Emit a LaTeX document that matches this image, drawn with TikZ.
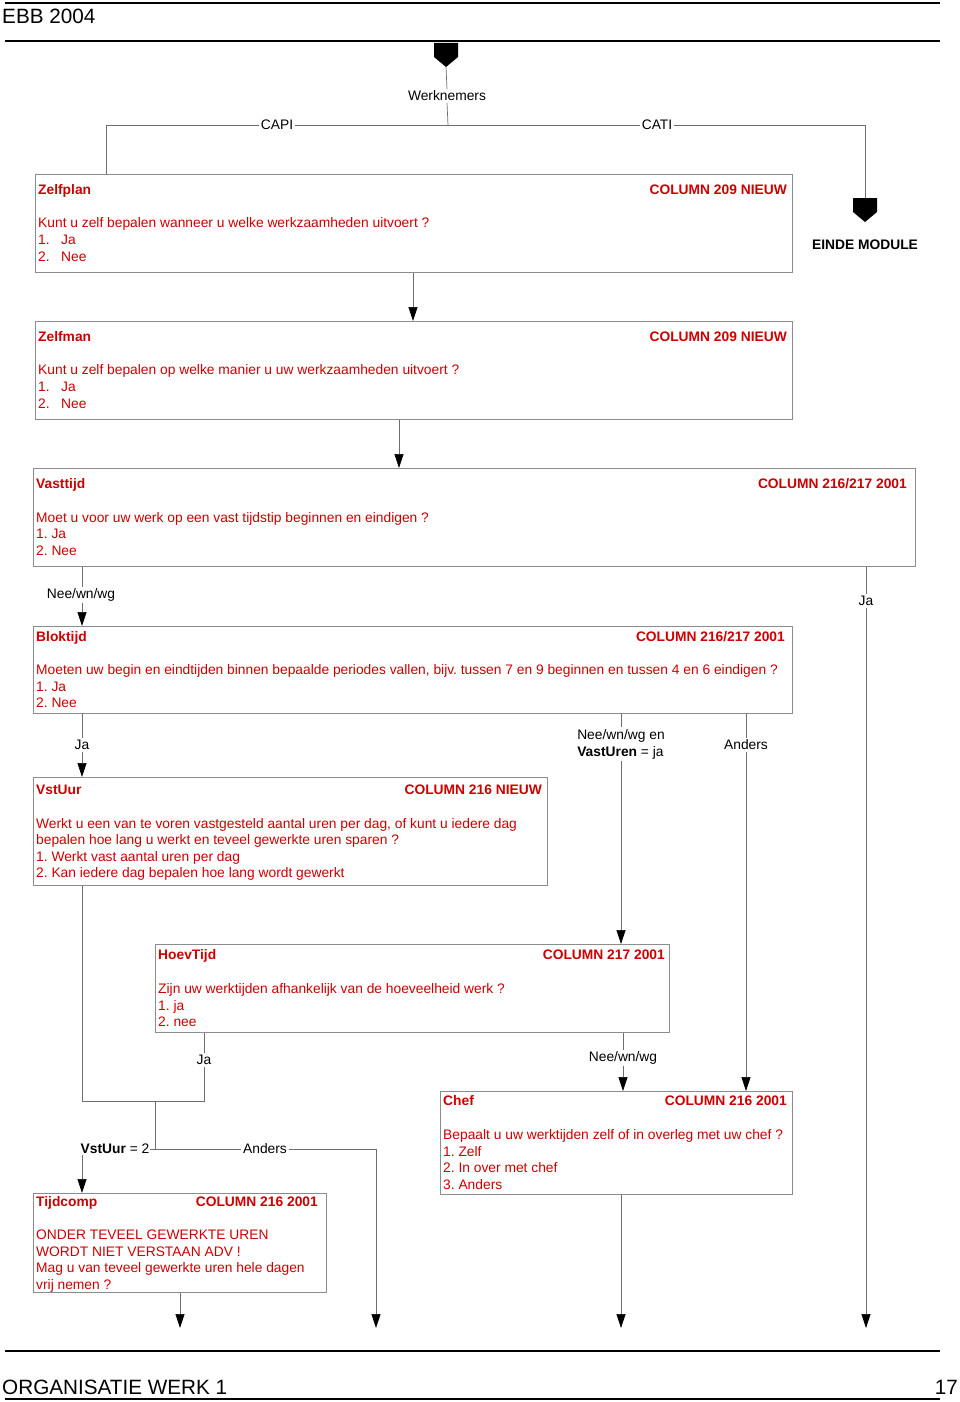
\documentclass[tikz,border=0pt]{standalone}
\usepackage{fontspec}
\setmainfont{Liberation Sans}
\usetikzlibrary{arrows.meta}
\definecolor{qred}{RGB}{204,0,0}
\definecolor{lgray}{RGB}{110,110,110}
\definecolor{bgray}{RGB}{140,140,140}
\frenchspacing
\begin{document}
\frenchspacing
\begin{tikzpicture}[x=1pt,y=-1pt,
  box/.style={draw=bgray, line width=0.9pt, fill=white, anchor=north west, inner sep=0pt},
  t/.style={inner sep=0pt, anchor=base west, text=qred, font=\fontsize{13.8}{17}\selectfont\frenchspacing},
  tb/.style={t, font=\fontsize{13.8}{17}\selectfont\bfseries},
  tr/.style={tb, anchor=base east},
  lab/.style={inner sep=1.5pt, fill=white, text=black, font=\fontsize{13.8}{17}\selectfont},
  conn/.style={draw=lgray, line width=0.7pt},
  arr/.style={conn, -{Triangle[width=9pt,length=14pt,color=black]}},
  big/.style={inner sep=0pt, font=\fontsize{20.7}{24}\selectfont}
]
\useasboundingbox (0,0) rectangle (960,1402);

% header and footer
\draw[line width=1.6pt] (5,3) -- (940,3);
\node[big, anchor=base west] (hdr) at (2,23.5) {EBB 2004};
\draw[line width=2pt] (5,41) -- (940,41);
\draw[line width=2pt] (5,1351) -- (940,1351);
\node[big, anchor=base west] (ftr) at (2,1394) {ORGANISATIE WERK 1};
\node[big, anchor=base east] (pg) at (958,1394) {17};
\draw[line width=1.6pt] (5,1399) -- (940,1399);

% helper x coordinates
\coordinate (x82) at (82,0);
\coordinate (x106) at (106,0);
\coordinate (x155) at (155,0);
\coordinate (x180) at (180,0);
\coordinate (x204) at (204,0);
\coordinate (x376) at (376,0);
\coordinate (x399) at (399,0);
\coordinate (x413) at (413,0);
\coordinate (x621) at (621,0);
\coordinate (x623) at (623,0);
\coordinate (x746) at (746,0);
\coordinate (x866) at (866,0);

% start symbol
\fill (434,43) -- (458,43) -- (458,57) -- (446,67) -- (434,57) -- cycle;
\coordinate (start) at (446,67);
\node[lab] (wk) at (447,96) {Werknemers};
\coordinate (split) at (448,125);
\draw[conn] (start) -- (wk.north);
\draw[conn] (wk.south) -- (split);
\node[lab] (capi) at (277,125) {CAPI};
\node[lab] (cati) at (657,125) {CATI};
\coordinate (capiend) at (106,125);
\coordinate (catiend) at (865,125);

% end symbol
\fill (853,198) -- (877,198) -- (877,212) -- (865,222) -- (853,212) -- cycle;
\coordinate (endsym) at (865,198);
\node[inner sep=0pt, font=\fontsize{13.8}{17}\selectfont\bfseries, anchor=base] (einde) at (865,249) {EINDE MODULE};

% boxes
\node[box, minimum width=757, minimum height=98] (zelfplan) at (35,174) {};
\node[box, minimum width=757, minimum height=98] (zelfman) at (35,321) {};
\node[box, minimum width=882, minimum height=98] (vasttijd) at (33,468) {};
\node[box, minimum width=759, minimum height=87] (bloktijd) at (33,626) {};
\node[box, minimum width=514, minimum height=108] (vstuur) at (33,777) {};
\node[box, minimum width=514, minimum height=88] (hoevtijd) at (155,944) {};
\node[box, minimum width=352, minimum height=103] (chef) at (440,1091) {};
\node[box, minimum width=293, minimum height=99] (tijdcomp) at (33,1193) {};

% Zelfplan
\node[tb] at (38,194) {Zelfplan};
\node[tr] at (787,194) {COLUMN 209 NIEUW};
\node[t] at (38,227) {Kunt u zelf bepalen wanneer u welke werkzaamheden uitvoert ?};
\node[t] at (38,244) {1.}; \node[t] at (61,244) {Ja};
\node[t] at (38,261) {2.}; \node[t] at (61,261) {Nee};

% Zelfman
\node[tb] at (38,341) {Zelfman};
\node[tr] at (787,341) {COLUMN 209 NIEUW};
\node[t] at (38,374) {Kunt u zelf bepalen op welke manier u uw werkzaamheden uitvoert ?};
\node[t] at (38,391) {1.}; \node[t] at (61,391) {Ja};
\node[t] at (38,408) {2.}; \node[t] at (61,408) {Nee};

% Vasttijd
\node[tb] at (36,488) {Vasttijd};
\node[tr] at (907,488) {COLUMN 216/217 2001};
\node[t] at (36,522) {Moet u voor uw werk op een vast tijdstip beginnen en eindigen ?};
\node[t] at (36,538) {1. Ja};
\node[t] at (36,555) {2. Nee};

% Bloktijd
\node[tb] at (36,641) {Bloktijd};
\node[tr] at (785,641) {COLUMN 216/217 2001};
\node[t] at (36,674) {Moeten uw begin en eindtijden binnen bepaalde periodes vallen, bijv. tussen 7 en 9 beginnen en tussen 4 en 6 eindigen ?};
\node[t] at (36,691) {1. Ja};
\node[t] at (36,707) {2. Nee};

% VstUur
\node[tb] at (36,794) {VstUur};
\node[tr] at (542,794) {COLUMN 216 NIEUW};
\node[t] at (36,828) {Werkt u een van te voren vastgesteld aantal uren per dag, of kunt u iedere dag};
\node[t] at (36,844) {bepalen hoe lang u werkt en teveel gewerkte uren sparen ?};
\node[t] at (36,861) {1. Werkt vast aantal uren per dag};
\node[t] at (36,877) {2. Kan iedere dag bepalen hoe lang wordt gewerkt};

% HoevTijd
\node[tb] at (158,959) {HoevTijd};
\node[tr] at (665,959) {COLUMN 217 2001};
\node[t] at (158,993) {Zijn uw werktijden afhankelijk van de hoeveelheid werk ?};
\node[t] at (158,1010) {1. ja};
\node[t] at (158,1026) {2. nee};

% Chef
\node[tb] at (443,1105) {Chef};
\node[tr] at (787,1105) {COLUMN 216 2001};
\node[t] at (443,1139) {Bepaalt u uw werktijden zelf of in overleg met uw chef ?};
\node[t] at (443,1156) {1. Zelf};
\node[t] at (443,1172) {2. In over met chef};
\node[t] at (443,1189) {3. Anders};

% Tijdcomp
\node[tb] at (36,1206) {Tijdcomp};
\node[tr] at (318,1206) {COLUMN 216 2001};
\node[t] at (36,1239) {ONDER TEVEEL GEWERKTE UREN};
\node[t] at (36,1256) {WORDT NIET VERSTAAN ADV !};
\node[t] at (36,1272) {Mag u van teveel gewerkte uren hele dagen};
\node[t] at (36,1289) {vrij nemen ?};

% top connectors
\draw[conn] (zelfplan.north -| x106) -- (capiend) -- (capi.west);
\draw[conn] (capi.east) -- (cati.west);
\draw[conn] (cati.east) -- (catiend) -- (endsym);

\draw[arr] (zelfplan.south -| x413) -- (zelfman.north -| x413);
\draw[arr] (zelfman.south -| x399) -- (vasttijd.north -| x399);

% Vasttijd exits
\node[lab] (l1) at (81,595) {Nee/wn/wg};
\draw[conn] (vasttijd.south -| x82) -- (l1.north -| x82);
\draw[arr] (l1.south -| x82) -- (bloktijd.north -| x82);
\node[lab] (l2) at (866,601) {Ja};
\coordinate (out4) at (866,1328);
\draw[conn] (vasttijd.south -| x866) -- (l2.north);
\draw[arr] (l2.south) -- (out4);

% Bloktijd exits
\node[lab] (l3) at (82,745) {Ja};
\draw[conn] (bloktijd.south -| x82) -- (l3.north);
\draw[arr] (l3.south) -- (vstuur.north -| x82);
\node[lab, align=left] (l4) at (621,744) {Nee/wn/wg en\\\textbf{VastUren} = ja};
\draw[conn] (bloktijd.south -| x621) -- (l4.north -| x621);
\draw[arr] (l4.south -| x621) -- (hoevtijd.north -| x621);
\node[lab] (l5) at (746,745) {Anders};
\draw[conn] (bloktijd.south -| x746) -- (l5.north);
\draw[arr] (l5.south) -- (chef.north -| x746);

% HoevTijd exits
\node[lab] (l6) at (204,1060) {Ja};
\coordinate (jaend) at (204,1101);
\coordinate (vstend) at (82,1101);
\coordinate (merge) at (155,1101);
\coordinate (fork) at (155,1149);
\draw[conn] (hoevtijd.south -| x204) -- (l6.north);
\draw[conn] (l6.south) -- (jaend) -- (vstend) -- (vstuur.south -| x82);
\draw[conn] (merge) -- (fork);
\node[lab, inner sep=0.5pt] (l7) at (115,1149) {\textbf{VstUur} = 2};
\node[lab] (l8) at (265,1149) {Anders};
\coordinate (andersend) at (376,1149);
\coordinate (out2) at (376,1328);
\draw[conn] (fork) -- (l7.east);
\draw[conn] (fork) -- (l8.west);
\draw[arr] (l8.east) -- (andersend) -- (out2);
\draw[arr] (l7.south -| x82) -- (tijdcomp.north -| x82);

\node[lab] (l9) at (623,1058) {Nee/wn/wg};
\draw[conn] (hoevtijd.south -| x623) -- (l9.north);
\draw[arr] (l9.south) -- (chef.north -| x623);

% bottom exits
\coordinate (out1) at (180,1328);
\coordinate (out3) at (621,1328);
\draw[arr] (tijdcomp.south -| x180) -- (out1);
\draw[arr] (chef.south -| x621) -- (out3);
\end{tikzpicture}
\end{document}
